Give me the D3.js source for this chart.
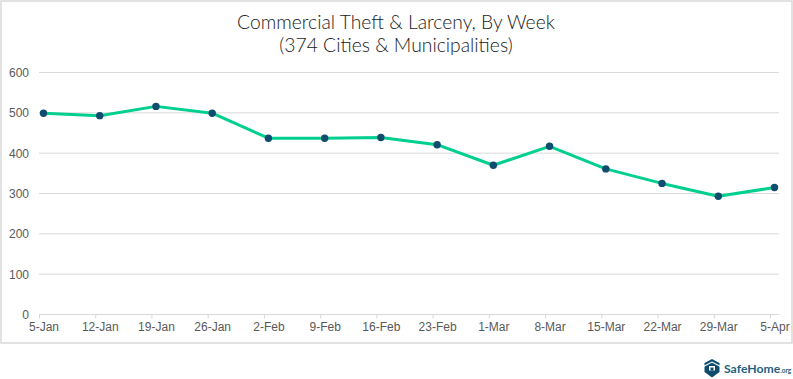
<html>
<head>
<title>Commercial Theft & Larceny, By Week</title>
<script src="https://cdn.jsdelivr.net/npm/d3@7"></script>
<style>
  html, body { margin: 0; padding: 0; background: #fff; }
  svg { display: block; }
  .tickText text { font-family: "Liberation Sans", Arial, sans-serif; font-size: 12px; fill: #595959; }
</style>
</head>
<body>
<script>
// data
const weeks = ["5-Jan","12-Jan","19-Jan","26-Jan","2-Feb","9-Feb","16-Feb","23-Feb","1-Mar","8-Mar","15-Mar","22-Mar","29-Mar","5-Apr"]
const counts = [499,493,516,499,437,437,439,421,370,417,361,325,293,315]
const yTicks = [0,100,200,300,400,500,600]
const titleLines = ["Commercial Theft & Larceny, By Week","(374 Cities & Municipalities)"]

let w = 793
let h = 379
let svg = d3.select("body").append("svg").attr("width",w).attr("height",h)

// outer frame
svg.append("rect")
    .attr("x",1).attr("y",1).attr("width",w-2).attr("height",342)
    .attr("fill","none").attr("stroke","#d9d9d9").attr("stroke-width",1.5)

// scales
let xScale = d3.scalePoint().domain(weeks).range([43.5,774.5])
let yScale = d3.scaleLinear().domain([0,600]).range([314.5,72.5])
let tickShift = -4.5

// gridlines + y labels
let yAxis = d3.axisLeft(yScale).tickValues(yTicks).tickSize(0).tickPadding(10)
let yG = svg.append("g").attr("class","tickText").attr("transform","translate(39,0)").call(yAxis)
yG.select(".domain").remove()
svg.append("g").selectAll("line").data(yTicks).enter().append("line")
    .attr("x1",39).attr("x2",779)
    .attr("y1",d=>yScale(d)).attr("y2",d=>yScale(d))
    .attr("stroke","#d9d9d9").attr("stroke-width",1)

// tick marks sit just left of each point and hang below the axis
let xTicks = d3.axisBottom(xScale).tickSize(4).tickFormat("")
let xtG = svg.append("g").attr("transform","translate("+tickShift+",314.5)").call(xTicks)
xtG.select(".domain").remove()
xtG.selectAll("line").attr("stroke","#d9d9d9")

// x labels centred on the points
let xAxis = d3.axisBottom(xScale).tickSize(0).tickPadding(8)
let xG = svg.append("g").attr("class","tickText").attr("transform","translate(0,314.5)").call(xAxis)
xG.select(".domain").remove()

// line
let line = d3.line().x((d,i)=>xScale(weeks[i])).y(d=>yScale(d))
svg.append("path").datum(counts)
    .attr("d",line).attr("fill","none")
    .attr("stroke","#00cf90").attr("stroke-width",3).attr("stroke-linejoin","round")
svg.selectAll("circle.pt").data(counts).enter().append("circle")
    .attr("class","pt")
    .attr("cx",(d,i)=>xScale(weeks[i])).attr("cy",d=>yScale(d)).attr("r",3.7)
    .attr("fill","#0f4c6e")

// title
svg.selectAll("text.title").data(titleLines).enter().append("text")
    .attr("class","title")
    .attr("x",396).attr("y",(d,i)=>29+i*23)
    .attr("text-anchor","middle")
    .attr("font-family","Lato, sans-serif").attr("font-weight",300)
    .attr("font-size",19.3).attr("fill","#1a1a1a")
    .text(d=>d)

// logo
let logo = svg.append("g").attr("transform","translate(712,368)")
logo.append("path")
    .attr("d","M0,-9 L7.5,-5 L7.5,4 L0,9.5 L-7.5,4 L-7.5,-5 Z")
    .attr("fill","#0f4d6e")
logo.append("path")
    .attr("d","M-8.5,-1.5 L0,-6 L8.5,-1.5")
    .attr("fill","none").attr("stroke","#fff").attr("stroke-width",1.1)
logo.append("rect").attr("x",-3).attr("y",-2).attr("width",6).attr("height",4.5).attr("fill","#fff")
logo.append("rect").attr("x",-1.5).attr("y",-0.5).attr("width",3).attr("height",3).attr("fill","#0f4d6e")
let logoText = svg.append("text").attr("x",724).attr("y",373)
    .attr("font-family","Lato, sans-serif").attr("font-weight",700).attr("fill","#1f5f80")
logoText.append("tspan").attr("font-size",12.2).text("SafeHome")
logoText.append("tspan").attr("font-size",6.5).text(".org")
</script>
</body>
</html>
